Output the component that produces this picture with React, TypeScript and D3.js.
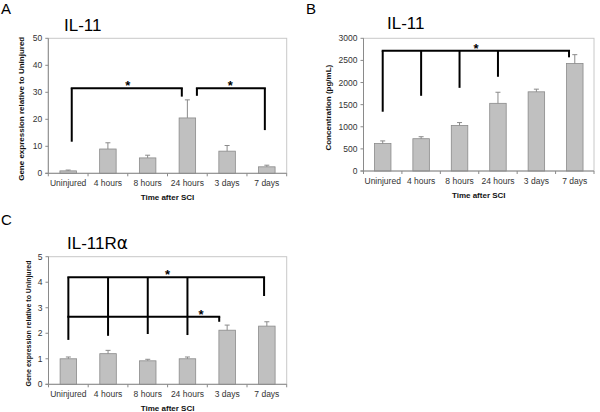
import React from "react";
import * as d3 from "d3";

const categories = ["Uninjured", "4 hours", "8 hours", "24 hours", "3 days", "7 days"];

// Panel A: IL-11 gene expression
const valuesA = [0.9, 9.0, 5.7, 20.5, 8.2, 2.4];
const errorsA = [0.3, 2.3, 1.0, 6.7, 2.1, 0.6];
const ticksA = [0, 10, 20, 30, 40, 50];

// Panel B: IL-11 concentration
const valuesB = [620, 730, 1030, 1530, 1790, 2430];
const errorsB = [60, 45, 65, 250, 60, 200];
const ticksB = [0, 500, 1000, 1500, 2000, 2500, 3000];

// Panel C: IL-11Ra gene expression
const valuesC = [1.0, 1.2, 0.92, 1.0, 2.12, 2.28];
const errorsC = [0.07, 0.13, 0.06, 0.07, 0.2, 0.17];
const ticksC = [0, 1, 2, 3, 4, 5];

type Bracket = { level: number; legs: { at: number; bottom: number }[]; star?: { at: number } };

const bracketsA: Bracket[] = [
  { level: 31.5, legs: [{ at: 0.09, bottom: 11.7 }, { at: 2.86, bottom: 28.4 }], star: { at: 1.5 } },
  { level: 31.5, legs: [{ at: 3.24, bottom: 28.7 }, { at: 4.95, bottom: 16 }], star: { at: 4.08 } },
];
const bracketsB: Bracket[] = [
  {
    level: 2720,
    legs: [
      { at: 0, bottom: 1340 },
      { at: 1, bottom: 1700 },
      { at: 2, bottom: 1880 },
      { at: 3, bottom: 2130 },
      { at: 4.85, bottom: 2570 },
    ],
    star: { at: 2.43 },
  },
];
const bracketsC: Bracket[] = [
  {
    level: 4.19,
    legs: [
      { at: 0, bottom: 1.74 },
      { at: 1, bottom: 1.9 },
      { at: 2, bottom: 1.97 },
      { at: 3, bottom: 1.93 },
      { at: 4.93, bottom: 3.46 },
    ],
    star: { at: 2.5 },
  },
  { level: 2.65, legs: [{ at: 0, bottom: 2.65 }, { at: 3.8, bottom: 2.45 }], star: { at: 3.34 } },
];

const FONT = "'Liberation Sans', Arial, sans-serif";

type PanelProps = {
  letter: string;
  letterX: number;
  letterY: number;
  title: React.ReactNode;
  titleX: number;
  titleY: number;
  x0: number;
  x1: number;
  y0: number;
  y1: number;
  values: number[];
  errors: number[];
  ticks: number[];
  yTitle: string;
  yTitleX: number;
  yTitleSize: number;
  brackets: Bracket[];
};

function Panel(p: PanelProps) {
  const x = d3.scaleBand<string>().domain(categories).range([p.x0, p.x1]);
  const bw = x.bandwidth();
  const y = d3.scaleLinear().domain([0, p.ticks[p.ticks.length - 1]]).range([p.y1, p.y0]);
  const cx = (at: number) => p.x0 + (at + 0.5) * bw;
  const barW = 16.5;
  const midY = (p.y0 + p.y1) / 2 + 3;
  return (
    <g fontFamily={FONT}>
      <text x={p.letterX} y={p.letterY} fontSize={15} fill="#000">{p.letter}</text>
      <text x={p.titleX} y={p.titleY} fontSize={17} fill="#000">{p.title}</text>
      <rect x={p.x0} y={p.y0} width={p.x1 - p.x0} height={p.y1 - p.y0} fill="none" stroke="#c8c8c8" strokeWidth={1} />
      {p.values.map((v, i) => {
        const c = x(categories[i])! + bw / 2;
        return (
          <g key={i}>
            <rect x={c - barW / 2} y={y(v)} width={barW} height={p.y1 - y(v)} fill="#c0c0c0" stroke="#8a8a8a" strokeWidth={0.8} />
            <line x1={c} x2={c} y1={y(v)} y2={y(v + p.errors[i])} stroke="#8a8a8a" strokeWidth={1} />
            <line x1={c - 2.5} x2={c + 2.5} y1={y(v + p.errors[i])} y2={y(v + p.errors[i])} stroke="#8a8a8a" strokeWidth={1} />
          </g>
        );
      })}
      <line x1={p.x0} x2={p.x0} y1={p.y0} y2={p.y1} stroke="#8a8a8a" strokeWidth={1} />
      <line x1={p.x0 - 3} x2={p.x1} y1={p.y1} y2={p.y1} stroke="#8a8a8a" strokeWidth={1} />
      {p.ticks.map((t) => (
        <g key={t}>
          <line x1={p.x0 - 3} x2={p.x0} y1={y(t)} y2={y(t)} stroke="#8a8a8a" />
          <text x={p.x0 - 6} y={y(t) + 3} fontSize={8.5} textAnchor="end" fill="#333">{t}</text>
        </g>
      ))}
      {d3.range(categories.length + 1).map((i) => (
        <line key={i} x1={p.x0 + i * bw} x2={p.x0 + i * bw} y1={p.y1} y2={p.y1 + 3} stroke="#8a8a8a" />
      ))}
      {categories.map((c) => (
        <text key={c} x={x(c)! + bw / 2} y={p.y1 + 13} fontSize={8.5} textAnchor="middle" fill="#333">{c}</text>
      ))}
      <text x={(p.x0 + p.x1) / 2} y={p.y1 + 26.5} fontSize={8} fontWeight="bold" textAnchor="middle" fill="#111">Time after SCI</text>
      <text
        transform={`translate(${p.yTitleX},${midY}) rotate(-90)`}
        fontSize={p.yTitleSize}
        fontWeight="bold"
        textAnchor="middle"
        fill="#111"
      >
        {p.yTitle}
      </text>
      {p.brackets.map((b, bi) => {
        const xs = b.legs.map((l) => cx(l.at));
        return (
          <g key={bi} stroke="#000" strokeWidth={2} fill="none">
            <line x1={d3.min(xs)! - 1} x2={d3.max(xs)! + 1} y1={y(b.level)} y2={y(b.level)} />
            {b.legs.map((l, li) => (
              <line key={li} x1={cx(l.at)} x2={cx(l.at)} y1={y(b.level)} y2={y(l.bottom)} />
            ))}
            {b.star && (
              <text x={cx(b.star.at)} y={y(b.level) + 2} fontSize={13} fontWeight="bold" textAnchor="middle" fill="#000" stroke="none">*</text>
            )}
          </g>
        );
      })}
    </g>
  );
}

export default function App() {
  return (
    <svg width={600} height={412} style={{ position: "absolute", left: 0, top: 0, background: "#fff" }}>
      <rect width={600} height={412} fill="#fff" />
      <Panel
        letter="A" letterX={1} letterY={14}
        title="IL-11" titleX={64} titleY={31}
        x0={48.3} x1={286.7} y0={38.3} y1={173.3}
        values={valuesA} errors={errorsA} ticks={ticksA}
        yTitle="Gene expression relative to Uninjured" yTitleX={24} yTitleSize={8}
        brackets={bracketsA}
      />
      <Panel
        letter="B" letterX={306} letterY={14}
        title="IL-11" titleX={387} titleY={29}
        x0={363.5} x1={594} y0={38.3} y1={171}
        values={valuesB} errors={errorsB} ticks={ticksB}
        yTitle="Concentration (pg/mL)" yTitleX={331} yTitleSize={8}
        brackets={bracketsB}
      />
      <Panel
        letter="C" letterX={1} letterY={225}
        title={<tspan>IL-11R<tspan fontFamily="'DejaVu Sans', sans-serif">α</tspan></tspan>} titleX={67} titleY={249}
        x0={48.5} x1={286.7} y0={256.7} y1={384.3}
        values={valuesC} errors={errorsC} ticks={ticksC}
        yTitle="Gene expression relative to Uninjured" yTitleX={31} yTitleSize={7}
        brackets={bracketsC}
      />
    </svg>
  );
}
